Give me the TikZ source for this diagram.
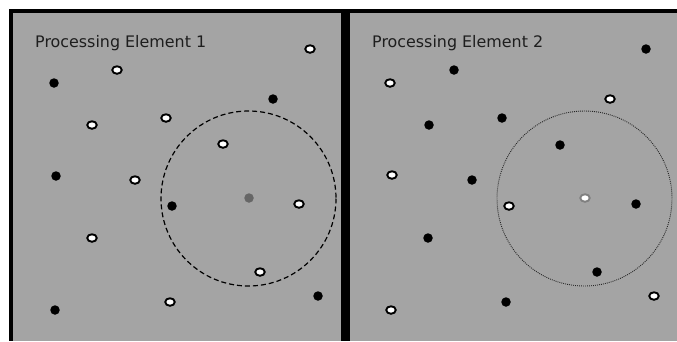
\documentclass[tikz,border=0pt]{standalone}
\usepackage{fontspec}
\setmainfont{DejaVu Sans}
\usetikzlibrary{shapes.geometric}
\definecolor{panelgray}{HTML}{A4A4A4}
\definecolor{txtgray}{HTML}{1E1E1E}
\definecolor{centergray}{HTML}{666666}
\tikzset{
  blackdot/.style={circle,fill=black,inner sep=0pt,minimum size=9.5pt},
  whitedot/.style={ellipse,fill=white,draw=black,line width=1.9pt,inner sep=0pt,minimum width=9.5pt,minimum height=7.5pt},
  centerdark/.style={circle,fill=centergray,inner sep=0pt,minimum size=9.5pt},
  centerlight/.style={ellipse,fill=white,draw=gray,line width=1.9pt,inner sep=0pt,minimum width=9.5pt,minimum height=7.5pt},
  title/.style={anchor=base west,inner sep=0pt,text=txtgray,font=\fontsize{15.9}{19}\selectfont},
  dashring/.style={draw=black,line width=1.2pt,dash pattern=on 5pt off 3pt},
  dotring/.style={draw=black!85,line width=0.9pt,dash pattern=on 0.9pt off 1.1pt},
}
\begin{document}
\begin{tikzpicture}[x=1pt,y=-1pt]
\useasboundingbox (0,0) rectangle (677,341);
\fill[white] (0,0) rectangle (677,341);
% panels
\fill[panelgray] (13,13) rectangle (341,341);
\fill[panelgray] (350,13) rectangle (677,341);
% frame
\fill[black] (9,9) rectangle (677,13);
\fill[black] (9,9) rectangle (13,341);
\fill[black] (341,9) rectangle (350,341);
% titles
\node[title] (t1) at (35,47) {Processing Element 1};
\node[title] (t2) at (372,47) {Processing Element 2};
% rings
\draw[dashring] (248.5,198.5) circle (87.5);
\draw[dotring] (584.5,198.5) circle (87.5);
% panel 1 dots
\node[blackdot] (a1) at (54,83) {};
\node[whitedot] (a2) at (117,70) {};
\node[whitedot] (a3) at (310,49) {};
\node[blackdot] (a4) at (273,99) {};
\node[whitedot] (a5) at (92,125) {};
\node[whitedot] (a6) at (166,118) {};
\node[whitedot] (a7) at (223,144) {};
\node[blackdot] (a8) at (56,176) {};
\node[whitedot] (a9) at (135,180) {};
\node[blackdot] (a10) at (172,206) {};
\node[centerdark] (a11) at (249,198) {};
\node[whitedot] (a12) at (299,204) {};
\node[whitedot] (a13) at (92,238) {};
\node[whitedot] (a14) at (260,272) {};
\node[blackdot] (a15) at (318,296) {};
\node[blackdot] (a16) at (55,310) {};
\node[whitedot] (a17) at (170,302) {};
% panel 2 dots
\node[whitedot] (b1) at (390,83) {};
\node[blackdot] (b2) at (454,70) {};
\node[blackdot] (b3) at (646,49) {};
\node[whitedot] (b4) at (610,99) {};
\node[blackdot] (b5) at (429,125) {};
\node[blackdot] (b6) at (502,118) {};
\node[blackdot] (b7) at (560,145) {};
\node[whitedot] (b8) at (392,175) {};
\node[blackdot] (b9) at (472,180) {};
\node[whitedot] (b10) at (509,206) {};
\node[centerlight] (b11) at (585,198) {};
\node[blackdot] (b12) at (636,204) {};
\node[blackdot] (b13) at (428,238) {};
\node[blackdot] (b14) at (597,272) {};
\node[whitedot] (b15) at (654,296) {};
\node[whitedot] (b16) at (391,310) {};
\node[blackdot] (b17) at (506,302) {};
\end{tikzpicture}
\end{document}
